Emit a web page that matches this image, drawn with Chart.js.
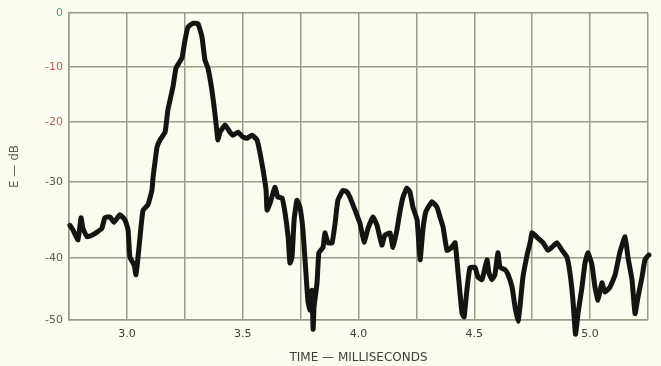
<!DOCTYPE html>
<html>
<head>
<meta charset="utf-8">
<script src="https://cdn.jsdelivr.net/npm/chart.js@4/dist/chart.umd.min.js"></script>
<style>
  body { margin: 0; background: #fbfbef; }
  .line-chart { width: 661px; height: 366px; }
</style>
</head>
<body>
<div class="line-chart"><canvas id="c"></canvas></div>
<script>
// time in ms, level in dB
const times = [
  2.754, 2.767, 2.789, 2.802, 2.810, 2.828, 2.849, 2.871, 2.892, 2.905,
  2.927, 2.944, 2.970, 2.992, 3.005, 3.013, 3.031, 3.039, 3.048, 3.061,
  3.070, 3.091, 3.108, 3.113, 3.121, 3.130, 3.143, 3.165, 3.177, 3.199,
  3.212, 3.238, 3.251, 3.264, 3.285, 3.307, 3.324, 3.337, 3.350, 3.367,
  3.380, 3.389, 3.393, 3.402, 3.424, 3.445, 3.458, 3.480, 3.501, 3.519,
  3.540, 3.562, 3.575, 3.588, 3.601, 3.605, 3.618, 3.639, 3.652, 3.670,
  3.683, 3.696, 3.704, 3.713, 3.722, 3.734, 3.747, 3.760, 3.773, 3.782,
  3.791, 3.799, 3.804, 3.808, 3.821, 3.829, 3.847, 3.855, 3.868, 3.886,
  3.899, 3.911, 3.933, 3.950, 3.963, 3.985, 4.006, 4.024, 4.041, 4.063,
  4.080, 4.101, 4.114, 4.136, 4.149, 4.166, 4.179, 4.192, 4.209, 4.222,
  4.235, 4.253, 4.266, 4.278, 4.291, 4.317, 4.339, 4.352, 4.365, 4.382,
  4.399, 4.417, 4.430, 4.447, 4.456, 4.468, 4.481, 4.503, 4.516, 4.533,
  4.555, 4.563, 4.576, 4.589, 4.602, 4.611, 4.633, 4.646, 4.663, 4.676,
  4.689, 4.697, 4.710, 4.728, 4.741, 4.749, 4.762, 4.775, 4.797, 4.818,
  4.835, 4.857, 4.879, 4.900, 4.913, 4.926, 4.937, 4.948, 4.965, 4.978,
  4.991, 5.008, 5.021, 5.034, 5.051, 5.064, 5.086, 5.108, 5.129, 5.151,
  5.164, 5.181, 5.194, 5.207, 5.224, 5.237, 5.254, 5.267
];
const levels = [
  -35.7, -36.3, -37.6, -34.7, -36.1, -37.2, -37.0, -36.6, -36.1, -34.7,
  -34.6, -35.3, -34.3, -35.0, -36.3, -39.9, -41.1, -42.7, -39.9, -35.9,
  -33.7, -33.0, -31.1, -29.2, -26.8, -24.2, -23.0, -21.7, -17.8, -13.6,
  -10.2, -8.3, -5.0, -2.6, -1.9, -2.0, -4.4, -8.7, -10.2, -14.2,
  -18.4, -21.8, -23.0, -21.7, -20.5, -21.7, -22.2, -21.7, -22.5, -22.7,
  -22.2, -23.0, -25.2, -28.0, -31.1, -33.7, -32.8, -30.7, -32.0, -32.1,
  -34.1, -37.2, -40.8, -39.9, -35.0, -32.4, -33.3, -36.3, -42.4, -47.1,
  -48.4, -45.2, -51.5, -47.9, -44.0, -39.3, -38.6, -36.7, -38.0, -38.0,
  -35.4, -32.4, -31.1, -31.3, -32.0, -33.7, -35.4, -37.9, -36.1, -34.6,
  -35.7, -38.3, -37.0, -36.7, -38.6, -36.3, -33.9, -32.0, -30.8, -31.3,
  -33.3, -35.0, -40.3, -36.3, -33.9, -32.6, -33.3, -34.6, -35.9, -39.0,
  -38.7, -38.0, -42.4, -48.9, -49.5, -45.2, -41.6, -41.5, -43.1, -43.5,
  -40.3, -42.4, -43.5, -42.7, -39.3, -41.5, -41.9, -42.7, -44.7, -47.9,
  -50.2, -47.9, -43.1, -39.6, -38.0, -36.7, -37.0, -37.4, -38.0, -39.0,
  -38.6, -38.0, -39.0, -39.9, -42.4, -46.8, -52.3, -48.9, -44.7, -40.8,
  -39.3, -41.1, -44.7, -46.8, -44.0, -45.5, -44.7, -42.7, -39.2, -37.2,
  -40.0, -43.5, -49.0, -46.3, -43.1, -40.3, -39.6, -40.0
];
const xTickLabels = ["3.0", "3.5", "4.0", "4.5", "5.0"];
const yTicks = [0, -10, -20, -30, -40, -50];

// the printed dB grid is not evenly spaced; where each 10 dB line sits (0 = bottom, 1 = top)
const warpIn  = [0, 0.2, 0.4, 0.6, 0.8, 1];
const warpOut = [0, 0.202, 0.4495, 0.645, 0.824, 1];

function warp (d, from, to) {
  for (let i = 1; i < from.length; i++) {
    if (d <= from[i] || i === from.length - 1) {
      const f = (d - from[i - 1]) / (from[i] - from[i - 1]);
      return to[i - 1] + f * (to[i] - to[i - 1]);
    }
  }
  return d;
}

class WarpScale extends Chart.LinearScale {
  getPixelForValue (value) {
    const lin = (value - this.min) / (this.max - this.min);
    return this.getPixelForDecimal(warp(lin, warpIn, warpOut));
  }
  getValueForPixel (pixel) {
    const d = this.getDecimalForPixel(pixel);
    return this.min + warp(d, warpOut, warpIn) * (this.max - this.min);
  }
}
WarpScale.id = "warp";
WarpScale.defaults = Chart.LinearScale.defaults;
Chart.register(WarpScale);

const gridColor = "#9b9c8a";
const tickColor = "#5c5c55";

const ctx = document.getElementById("c");
new Chart(ctx, {
  type: "line",
  data: {
    datasets: [{
      data: times.map((t, i) => ({ x: t, y: levels[i] })),
      borderColor: "#141412",
      borderWidth: 5,
      pointRadius: 0,
      tension: 0.12,
      borderJoinStyle: "round",
      borderCapStyle: "round",
      clip: false,
    }],
  },
  options: {
    responsive: true,
    maintainAspectRatio: false,
    animation: false,
    layout: { padding: { top: 13, right: 13, left: 0, bottom: 0 } },
    plugins: { legend: { display: false }, tooltip: { enabled: false } },
    scales: {
      x: {
        type: "linear",
        min: 2.75,
        max: 5.25,
        afterFit: s => { s.height = 46; },
        grid: { color: gridColor, lineWidth: 1.5, drawTicks: false },
        border: { color: gridColor, width: 1.5 },
        ticks: {
          stepSize: 0.25,
          padding: 8,
          autoSkip: false,
          maxRotation: 0,
          color: "#3e3e3a",
          font: { family: "DejaVu Sans", size: 11 },
          callback: v => {
            const s = Number(v).toFixed(1);
            return (Math.abs(v * 2 - Math.round(v * 2)) < 1e-6 && xTickLabels.includes(s)) ? s : "";
          },
        },
        title: {
          display: true,
          text: "TIME — MILLISECONDS",
          color: "#3e3e3a",
          font: { family: "DejaVu Sans", size: 12 },
          padding: { top: 0, bottom: 1 },
        },
      },
      y: {
        type: "warp",
        min: -50,
        max: 0,
        afterFit: s => { s.width = 69; },
        afterBuildTicks: s => { s.ticks = yTicks.map(v => ({ value: v })); },
        grid: { color: gridColor, lineWidth: 1.5, drawTicks: false },
        border: { color: gridColor, width: 1.5 },
        ticks: {
          padding: 6,
          font: { family: "DejaVu Sans", size: 11 },
          color: c => {
            const v = c.tick ? c.tick.value : null;
            if (v === 0) return "#4f9a78";
            if (v === -10 || v === -20) return "#b0625a";
            return tickColor;
          },
          callback: v => String(v),
        },
        title: {
          display: true,
          text: "E — dB",
          color: tickColor,
          font: { family: "DejaVu Sans", size: 12 },
          padding: { top: 8, bottom: 0 },
        },
      },
    },
  },
});
</script>
</body>
</html>
